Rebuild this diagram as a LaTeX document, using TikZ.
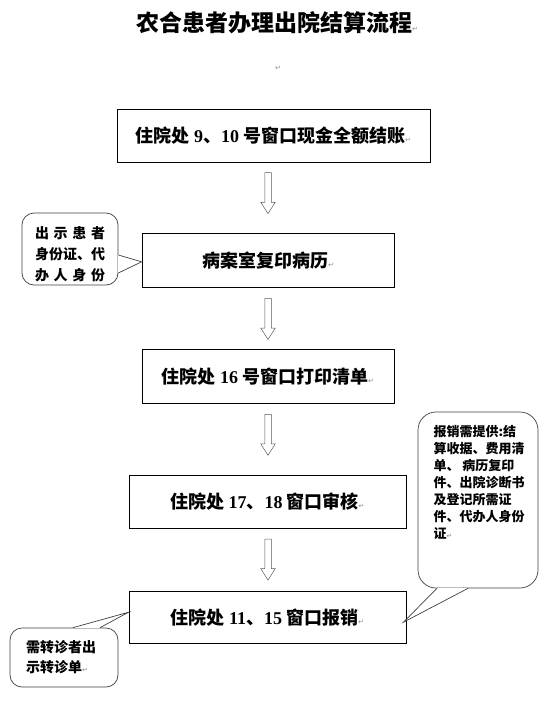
\documentclass[tikz,border=0pt]{standalone}
\usepackage{fontspec}
\setmainfont{Liberation Serif}
\newfontfamily\cjk{Noto Sans CJK SC}
\newfontfamily\markfont{DejaVu Sans}
\usepackage{tikz}
\usetikzlibrary{shapes,arrows,positioning}
\newcommand{\retmark}{{\markfont\mdseries\color{black!45}\fontsize{7}{7}\selectfont↵}}

\begin{document}
\begin{tikzpicture}[
        x=1pt, y=1pt,
        stepbox/.style={rectangle, draw, line width=0.8pt, inner sep=0pt, align=center, font=\cjk\bfseries\fontsize{18}{22}\selectfont},
        flow/.style={single arrow, draw=black!65, line width=0.5pt, shape border rotate=270, inner sep=3pt, minimum width=14pt, minimum height=41pt, single arrow head extend=4pt, single arrow tip angle=65},
        note/.style={rectangle, draw=black!75, line width=0.7pt, fill=white, rounded corners=12pt, inner sep=0pt},
        notetext/.style={inner sep=0pt, align=left, font=\cjk\bfseries\fontsize{14}{21}\selectfont},
        pointer/.style={draw=black!75, line width=0.7pt}
    ]
        \useasboundingbox (0,0) rectangle (558,-709);
        \node[font=\cjk\bfseries\fontsize{23}{26}\selectfont] (title) at (277,-23) {农合患者办理出院结算流程\retmark};
        \node[inner sep=0pt] (para) at (278,-68) {\retmark};

        \node[stepbox, minimum width=313pt, minimum height=53pt] (box1) at (273.5,-135.5) {住院处 {\rmfamily 9}、{\rmfamily 10} 号窗口现金全额结账\retmark};
        \node[stepbox, minimum width=252pt, minimum height=54pt, below=71pt of box1, xshift=-5.5pt] (box2) {病案室复印病历\retmark};
        \node[stepbox, minimum width=252pt, minimum height=54pt, below=61pt of box2] (box3) {住院处 {\rmfamily 16} 号窗口打印清单\retmark};
        \node[stepbox, minimum width=277pt, minimum height=53pt, below=71pt of box3, xshift=-0.5pt] (box4) {住院处 {\rmfamily 17}、{\rmfamily 18} 窗口审核\retmark};
        \node[stepbox, minimum width=277pt, minimum height=52pt, below=62pt of box4] (box5) {住院处 {\rmfamily 11}、{\rmfamily 15} 窗口报销\retmark};

        \node[flow, below=10pt of box1, xshift=-5.5pt] (a1) {};
        \node[flow, below=10pt of box2] (a2) {};
        \node[flow, below=10pt of box3] (a3) {};
        \node[flow, below=10pt of box4, xshift=0.5pt] (a4) {};

        \node[note, minimum width=96pt, minimum height=72pt] (idnote) at (70,-249) {};
        \node[notetext] (idtext) at ([yshift=-5pt]idnote.center) {\makebox[70pt][s]{出 示 患 者}\\身份证、代\\\makebox[70pt][s]{办 人 身 份}};
        \node[note, minimum width=120pt, minimum height=176pt, rounded corners=18pt] (refnote) at (478,-500) {};
        \node[notetext, font=\cjk\bfseries\fontsize{13}{17}\selectfont] (reftext) at ([xshift=1pt, yshift=17.5pt]refnote.center) {报销需提供:结\\算收据、费用清\\单、 病历复印\\件、出院诊断书\\及登记所需证\\件、代办人身份\\证\retmark};
        \node[note, minimum width=108pt, minimum height=59pt] (transnote) at (64,-657.5) {};
        \node[notetext, font=\cjk\bfseries\fontsize{14}{20}\selectfont] (transtext) at ([xshift=-3pt]transnote.center) {需转诊者出\\示转诊单\retmark};

        \coordinate (idtip) at ([yshift=-1pt]box2.west);
        \coordinate (reftip) at ([xshift=-3pt, yshift=-5pt]box5.east);
        \coordinate (transtip) at ([yshift=5pt]box5.west);
        \draw[white, line width=1.2pt] ([yshift=-6pt]idnote.east) -- ([yshift=-24pt]idnote.east);
        \draw[pointer] ([yshift=-6pt]idnote.east) -- (idtip) -- ([yshift=-24pt]idnote.east);
        \draw[white, line width=1.2pt] ([xshift=-41pt]refnote.south) -- ([xshift=-10pt]refnote.south);
        \draw[pointer] ([xshift=-41pt]refnote.south) -- (reftip) -- ([xshift=-10pt]refnote.south);
        \draw[white, line width=1.2pt] ([xshift=9pt]transnote.north) -- ([xshift=36pt]transnote.north);
        \draw[pointer] ([xshift=9pt]transnote.north) -- (transtip) -- ([xshift=36pt]transnote.north);
    \end{tikzpicture}
\end{document}
